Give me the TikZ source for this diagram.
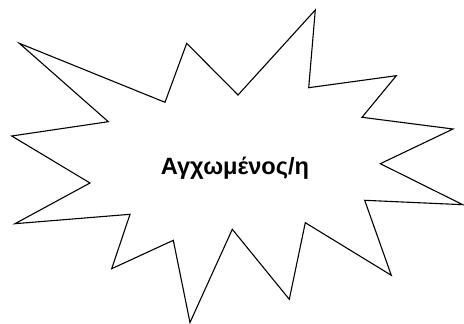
\documentclass[tikz,border=0pt]{standalone}
\usepackage{fontspec}
\setmainfont{Liberation Sans}
\usepackage{tikz}
\usetikzlibrary{calc}
\definecolor{ink}{RGB}{0,0,0}
\tikzset{
  bstar/.style={ink,line width=1.1pt,line join=miter},
  blabel/.style={ink,font=\fontsize{23.6}{28}\selectfont\bfseries,inner sep=0pt},
}
\begin{document}
\begin{tikzpicture}[x=1pt,y=-1pt]
  \useasboundingbox (0,0) rectangle (464,324);
  \coordinate (o1)  at (19.3,43.3);
  \coordinate (i1)  at (165,102.3);
  \coordinate (o2)  at (186.7,43.3);
  \coordinate (i2)  at (238,95);
  \coordinate (o3)  at (315.3,10);
  \coordinate (i3)  at (308.7,87.7);
  \coordinate (o4)  at (396.3,75.7);
  \coordinate (i4)  at (362,117.3);
  \coordinate (o5)  at (453,129);
  \coordinate (i5)  at (380.3,163.7);
  \coordinate (o6)  at (462.8,204.7);
  \coordinate (i6)  at (364.7,200.3);
  \coordinate (o7)  at (391.3,275.3);
  \coordinate (i7)  at (305.3,222.7);
  \coordinate (o8)  at (289.3,299.3);
  \coordinate (i8)  at (232.3,229.3);
  \coordinate (o9)  at (190,322.5);
  \coordinate (i9)  at (173.3,240.3);
  \coordinate (o10) at (111.7,268.7);
  \coordinate (i10) at (130,214.3);
  \coordinate (o11) at (15,223.7);
  \coordinate (i11) at (90,183);
  \coordinate (o12) at (11.7,136);
  \coordinate (i12) at (108.3,121.7);
  \draw[bstar] (o1) -- (i1) -- (o2) -- (i2) -- (o3) -- (i3) -- (o4) -- (i4)
    -- (o5) -- (i5) -- (o6) -- (i6) -- (o7) -- (i7) -- (o8) -- (i8)
    -- (o9) -- (i9) -- (o10) -- (i10) -- (o11) -- (i11) -- (o12) -- (i12) -- cycle;
  \node[blabel,anchor=base] (mood) at (235,174.3) {Αγχωμένος/η};
\end{tikzpicture}
\end{document}
